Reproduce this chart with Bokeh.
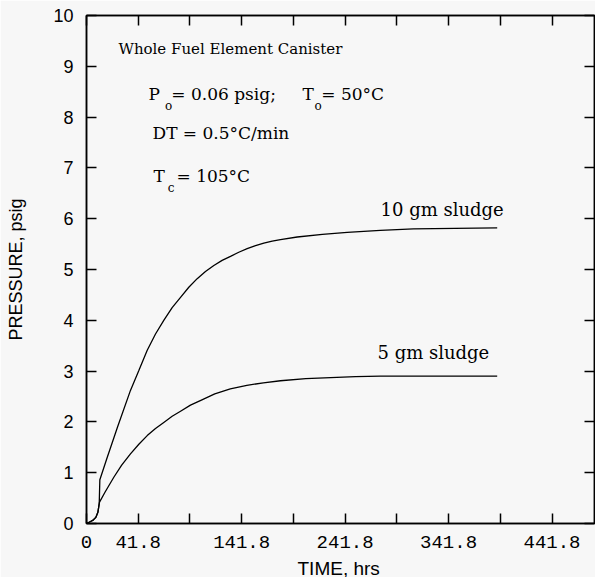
from bokeh.plotting import figure
from bokeh.models import Range1d, FixedTicker, LinearAxis, Label, Title
from bokeh.embed import file_html
from bokeh.resources import INLINE

# ---- data (axis units of the original chart; x origin labelled "0") ----
time_10 = [0, 3, 6, 9, 11, 12.3, 12.9, 20, 30, 42.5, 50.6, 58.7, 66.7, 74.7, 82.8,
           90.9, 98.9, 107.0, 115.0, 123.1, 131.1, 139.2, 147.2, 155.3, 163.4, 171.4,
           179.5, 187.5, 203.7, 228, 252, 284, 316, 356, 397]
pres_10 = [0, 0.03, 0.06, 0.12, 0.22, 0.39, 0.86, 1.30, 1.90, 2.62, 3.01, 3.41, 3.73,
           4.00, 4.25, 4.45, 4.65, 4.82, 4.96, 5.08, 5.18, 5.26, 5.34, 5.41, 5.47, 5.52,
           5.56, 5.59, 5.64, 5.69, 5.73, 5.77, 5.80, 5.81, 5.82]
time_5 = [0, 3, 6, 9, 11, 12.3, 12.6, 18, 26.4, 34, 42.5, 50.6, 58.7, 66.7, 74.7,
          82.8, 90.9, 100.5, 110, 124, 139, 155, 171, 187.5, 212, 236, 260, 284, 397]
pres_5 = [0, 0.03, 0.06, 0.12, 0.22, 0.39, 0.42, 0.62, 0.91, 1.15, 1.37, 1.56, 1.73,
          1.87, 1.99, 2.11, 2.21, 2.33, 2.42, 2.55, 2.65, 2.72, 2.77, 2.81, 2.85, 2.87,
          2.89, 2.90, 2.90]

x_ticks = [0, 50, 100, 150, 200, 250, 300, 350, 400, 450]
x_tick_labels = ["0", "41.8", "", "141.8", "", "241.8", "", "341.8", "", "441.8"]
y_ticks = [0, 1, 2, 3, 4, 5, 6, 7, 8, 9, 10]

bg = "#f7f7f7"

p = figure(frame_width=508, frame_height=508, output_backend="svg", toolbar_location=None,
           x_range=Range1d(0, 508 / 1.0345), y_range=Range1d(0, 10),
           min_border_left=86, min_border_top=15, min_border_right=1, min_border_bottom=30,
           background_fill_color=bg, border_fill_color=bg)
p.grid.visible = False
p.outline_line_color = "black"
p.outline_line_width = 1.5

p.line(time_10, pres_10, line_color="black", line_width=1.3)
p.line(time_5, pres_5, line_color="black", line_width=1.3)

xa = p.xaxis[0]
xa.ticker = FixedTicker(ticks=x_ticks)
xa.major_label_overrides = {t: l for t, l in zip(x_ticks, x_tick_labels)}
xa.major_label_text_font = "Liberation Mono"
xa.major_label_text_font_size = "19px"
xa.major_label_standoff = 12

ya = p.yaxis[0]
ya.ticker = FixedTicker(ticks=y_ticks)
ya.major_label_text_font = "Liberation Sans"
ya.major_label_text_font_size = "18px"
ya.major_label_standoff = 13
ya.axis_label = "PRESSURE, psig"
ya.axis_label_text_font = "Liberation Sans"
ya.axis_label_text_font_size = "18px"
ya.axis_label_text_font_style = "normal"
ya.axis_label_text_color = "black"
ya.axis_label_standoff = 24

for ax in (xa, ya):
    ax.major_tick_in = 10
    ax.major_tick_out = 0
    ax.minor_tick_line_color = None
    ax.axis_line_width = 1.5
    ax.major_tick_line_width = 1.5
    ax.major_label_text_color = "black"

top = LinearAxis(ticker=FixedTicker(ticks=x_ticks),
                 major_label_overrides={t: "" for t in x_ticks},
                 major_label_text_font_size="1px",
                 major_tick_in=10, major_tick_out=0, minor_tick_line_color=None,
                 major_label_standoff=0, axis_line_width=1.5, major_tick_line_width=1.5)
right = LinearAxis(ticker=FixedTicker(ticks=y_ticks),
                   major_label_overrides={t: "" for t in y_ticks},
                   major_label_text_font_size="1px",
                   major_tick_in=10, major_tick_out=0, minor_tick_line_color=None,
                   major_label_standoff=0, axis_line_width=1.5, major_tick_line_width=1.5)
p.add_layout(top, "above")
p.add_layout(right, "right")

# x axis title
p.add_layout(Title(text="TIME,   hrs", align="left", offset=211, text_font="Liberation Sans",
                   text_font_size="19px", text_font_style="normal", text_color="black"),
             "below")

serif = "DejaVu Serif"

def lab(x, y, text, size, font=serif, align="left"):
    p.add_layout(Label(x=x, y=y, text=text, text_font=font, text_font_size=size,
                       text_align=align, text_baseline="middle", text_color="black"))

# annotations
lab(30.9, 9.35, "Whole Fuel Element Canister", "15px")
lab(60.0, 8.46, "P", "17px")
lab(76.0, 8.22, "o", "12px")
lab(82.0, 8.46, "=  0.06  psig;", "17px")
lab(208.8, 8.46, "T", "17px")
lab(220.4, 8.22, "o", "12px")
lab(227.0, 8.46, "= 50°C", "17px")
lab(63.8, 7.68, "DT  =  0.5°C/min", "17px")
lab(64.8, 6.85, "T", "17px")
lab(78.5, 6.61, "c", "12px")
lab(87.0, 6.85, "=  105°C", "17px")
lab(284.2, 6.18, "10 gm sludge", "18px")
lab(281.3, 3.37, "5 gm sludge", "18px")

open("out.html", "w").write(file_html(p, INLINE))
